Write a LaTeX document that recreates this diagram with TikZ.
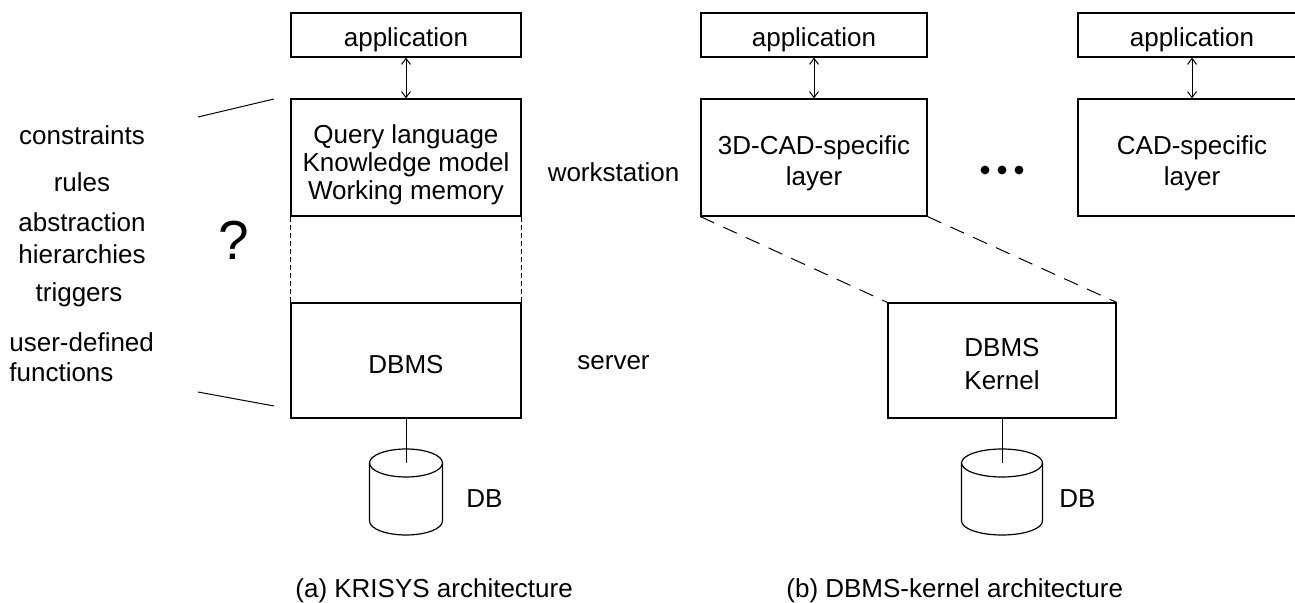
\documentclass[tikz,border=0pt]{standalone}
\usepackage{fontspec}
\setmainfont{Liberation Sans}
\usetikzlibrary{arrows.meta}
\begin{document}
\begin{tikzpicture}[x=0.5pt,y=-0.5pt,
  every node/.style={font=\fontsize{13}{15}\selectfont, inner sep=0pt},
  box/.style={draw, line width=0.6pt, align=center, text depth=0pt},
  appbox/.style={box, minimum height=22pt, text height=11.75pt},
  layerbox/.style={box, minimum height=58.5pt, text height=28.5pt,
    font=\fontsize{13}{15.5}\selectfont},
  srvbox/.style={box, minimum height=57.5pt, text height=12.8pt},
  lbl/.style={anchor=base, align=center},
  link/.style={line width=0.5pt,
    {Straight Barb[length=3pt,width=4.5pt]}-{Straight Barb[length=3pt,width=4.5pt]}},
  wire/.style={line width=0.5pt},
  tierseam/.style={line width=0.4pt, dash pattern=on 2.5pt off 1.5pt},
  zoomseam/.style={line width=0.5pt, dash pattern=on 7.5pt off 5pt},
  pics/dbdisk/.style={code={
    \draw[line width=0.6pt] (-#1,0) -- (-#1,58)
      arc[start angle=180, end angle=360, x radius=#1*0.5pt, y radius=7pt]
      -- (#1,0);
    \draw[line width=0.6pt] (0,0) ellipse[x radius=#1*0.5pt, y radius=7pt];
  }}
]
\clip (0,0) rectangle (1295,603);

% (a) KRISYS architecture
\node[appbox, minimum width=115pt] (appA) at (406,35) {application};
\node[layerbox, minimum width=115pt, text height=42pt, font=\fontsize{13}{14}\selectfont]
  (krisys) at (406,157.5) {Query language\\Knowledge model\\Working memory};
\node[srvbox, minimum width=115pt] (dbmsA) at (406,360.5) {DBMS};
\coordinate (diskA) at (406,463);
\pic at (diskA) {dbdisk=36.5};
\node[lbl] (dbA) at (484.5,508) {DB};

\draw[link] (appA) -- (krisys);
\draw[tierseam] (krisys.south west) -- (dbmsA.north west);
\draw[tierseam] (krisys.south east) -- (dbmsA.north east);
\draw[wire] (dbmsA.south) -- (diskA);

% feature list beside the KRISYS stack
\coordinate (capTopL) at (198,117);
\coordinate (capTopR) at (274,99);
\coordinate (capBotL) at (198,392);
\coordinate (capBotR) at (274,406);
\draw[wire] (capTopL) -- (capTopR);
\draw[wire] (capBotL) -- (capBotR);
\node[lbl] (fConstr) at (82,145) {constraints};
\node[lbl] (fRules) at (82,191.7) {rules};
\node[lbl, font=\fontsize{13}{15.8}\selectfont] (fAbstr) at (82,263.3) {abstraction\\hierarchies};
\node[lbl] (fTrig) at (79,302) {triggers};
\node[anchor=base west, align=left] (fUdf) at (9,381.7) {user-defined\\functions};
\node[font=\fontsize{27.5}{30}\selectfont] (qmark) at (233.5,240) {?};

% tier labels
\node[lbl] (tierWs) at (613.5,181.7) {workstation};
\node[lbl] (tierSrv) at (613.5,370) {server};

% (b) DBMS-kernel architecture
\node[appbox, minimum width=113pt] (appB) at (814,35) {application};
\node[layerbox, minimum width=113pt] (cad3d) at (814,157.5) {3D-CAD-specific\\layer};
\node[appbox, minimum width=114pt] (appC) at (1192,35) {application};
\node[layerbox, minimum width=114pt] (cad) at (1192,157.5) {CAD-specific\\layer};
\node[srvbox, minimum width=114pt, text height=28.8pt, font=\fontsize{13}{16.3}\selectfont]
  (kernel) at (1002,360.5) {DBMS\\Kernel};
\coordinate (diskB) at (1002,463);
\pic at (diskB) {dbdisk=40.5};
\node[lbl] (dbB) at (1077.5,508) {DB};

\draw[link] (appB) -- (cad3d);
\draw[link] (appC) -- (cad);
\draw[zoomseam] (cad3d.south west) -- (kernel.north west);
\draw[zoomseam] (cad3d.south east) -- (kernel.north east);
\draw[wire] (kernel.south) -- (diskB);
\foreach \dx in {985,1002,1019} \fill (\dx,170) circle[radius=2.2pt];

% captions
\node[anchor=base west] (capA) at (295,597.5) {(a) KRISYS architecture};
\node[anchor=base west] (capB) at (786,597.5) {(b) DBMS-kernel architecture};
\end{tikzpicture}
\end{document}
